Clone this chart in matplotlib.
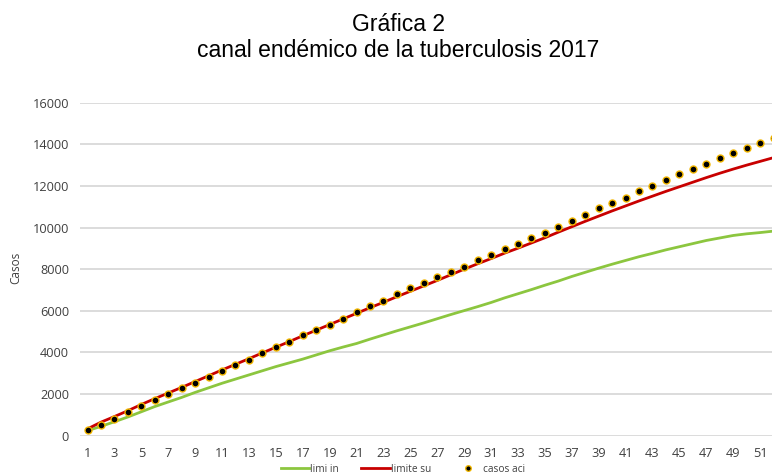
import matplotlib
matplotlib.use("Agg")
import matplotlib.pyplot as plt
from matplotlib.lines import Line2D

weeks = list(range(1, 53))
limi_in = [240, 450, 670, 900, 1150, 1400, 1620, 1840, 2080, 2300,
           2520, 2720, 2920, 3120, 3320, 3500, 3680, 3880, 4080, 4260,
           4430, 4640, 4840, 5040, 5230, 5420, 5620, 5820, 6010, 6200,
           6400, 6620, 6820, 7020, 7230, 7430, 7650, 7850, 8050, 8240,
           8420, 8600, 8760, 8930, 9080, 9230, 9380, 9500, 9620, 9700,
           9760, 9830]
limite_su = [330, 650, 920, 1200, 1500, 1780, 2050, 2320, 2600, 2880,
             3160, 3430, 3700, 3980, 4250, 4520, 4800, 5070, 5340, 5610,
             5880, 6150, 6410, 6680, 6940, 7200, 7460, 7730, 8000, 8260,
             8510, 8770, 9010, 9260, 9510, 9780, 10040, 10300, 10550, 10800,
             11040, 11280, 11510, 11740, 11960, 12180, 12400, 12610, 12810, 13000,
             13180, 13360]
casos_aci = [280, 530, 800, 1150, 1410, 1715, 2000, 2280, 2520, 2810,
             3120, 3400, 3650, 3990, 4280, 4500, 4840, 5090, 5330, 5620,
             5940, 6220, 6470, 6790, 7080, 7350, 7610, 7870, 8120, 8430,
             8700, 8960, 9210, 9500, 9730, 10010, 10300, 10590, 10930, 11180,
             11440, 11740, 12000, 12300, 12570, 12820, 13040, 13330, 13600, 13810,
             14050, 14320]
xticks = list(range(1, 52, 2))
yticks = list(range(0, 16001, 2000))
labels = ["limi in", "limite su", "casos aci"]

tick_font = "Open Sans"
fig = plt.figure(figsize=(7.72, 4.75), dpi=100)
ax = fig.add_axes([80/772, (475-435.7)/475, 1 - 80/772 + 0.002, (435.7-102.7)/475])

green = "#8cc63f"
red = "#c80000"
ax.plot(weeks, limi_in, color=green, lw=2.0, zorder=3, solid_capstyle="round")
ax.plot(weeks, limite_su, color=red, lw=2.0, zorder=3, solid_capstyle="round")
ax.plot(weeks, casos_aci, linestyle="none", marker="o", ms=5, mfc="black",
        mec="#f2b700", mew=1.0, zorder=4)

ax.set_xlim(0.44, 52.0)
ax.set_ylim(0, 16000)
ax.set_xticks(xticks)
ax.set_yticks(yticks)
ax.tick_params(length=0, labelsize=9.2, labelcolor="#404040", pad=8)
for lab in ax.get_xticklabels() + ax.get_yticklabels():
    lab.set_fontfamily(tick_font)
ax.grid(axis="y", color="#d9d9d9", lw=1.3)
ax.set_axisbelow(True)
for s in ax.spines.values():
    s.set_visible(False)
ax.set_ylabel("Casos", fontsize=8.5, family=tick_font, color="#404040", labelpad=10)
ax.yaxis.set_label_coords(-0.083, 0.505)

fig.text(0.516, 0.972, "Gráfica 2\ncanal endémico de la tuberculosis 2017",
         ha="center", va="top", fontsize=16.5, family="Liberation Sans",
         linespacing=1.15, color="black")

handles = [Line2D([], [], color=green, lw=2.0),
           Line2D([], [], color=red, lw=2.0),
           Line2D([], [], linestyle="none", marker="o", ms=4, mfc="black",
                  mec="#f2b700", mew=1.0)]
fig.legend(handles, labels, loc="center", bbox_to_anchor=(0.522, 0.012),
           ncol=3, frameon=False, prop={"family": tick_font, "size": 7.3},
           handlelength=2.8, handletextpad=0.1, columnspacing=2.2, labelcolor="#404040",
           borderpad=0.0)

fig.savefig("out.png", dpi=100)
